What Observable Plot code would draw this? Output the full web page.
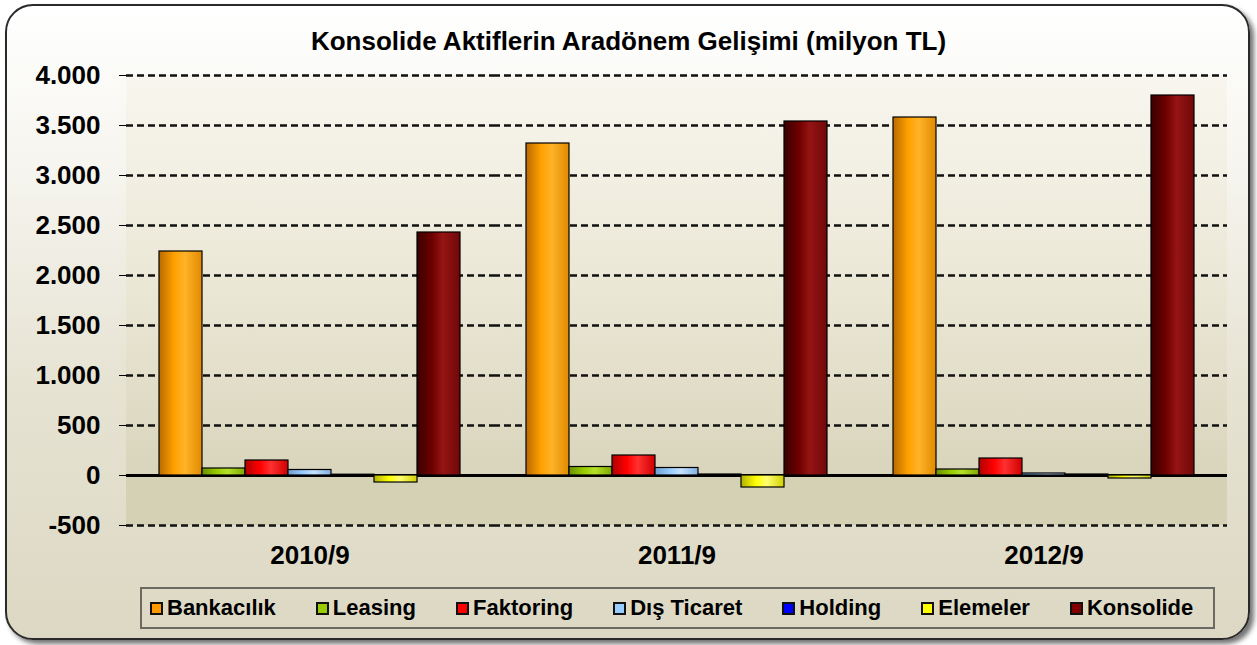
<!DOCTYPE html>
<html>
<head>
<meta charset="utf-8">
<script src="https://cdn.jsdelivr.net/npm/d3@7"></script>
<script src="https://cdn.jsdelivr.net/npm/@observablehq/plot@0.6"></script>
<style>
  html, body { margin: 0; padding: 0; background: #ffffff; }
  body { width: 1257px; height: 645px; position: relative; overflow: hidden;
         font-family: "Liberation Sans", Arial, sans-serif; }
  #frame { position: absolute; left: 5px; top: 4px; width: 1241px; height: 632px;
           border: 2px solid #2a2a2a; border-radius: 28px;
           box-shadow: 4px 4px 5px rgba(0,0,0,0.55);
           background: linear-gradient(to bottom, #ffffff 0%, #f6f5ef 25%, #e6e3d3 60%, #dcd8c3 100%); }
  #chart { position: absolute; left: 0; top: 0; }
  #title { position: absolute; left: 0; top: 26px; width: 1257px; text-align: center;
           font-size: 26px; font-weight: bold; color: #000; }
  #legend { position: absolute; left: 140px; top: 587px; height: 42px; width: 1075px;
            border: 2px solid #6b6a62; display: flex; align-items: center;
            padding-left: 8px; gap: 40px; box-sizing: border-box; }
  .item { display: flex; align-items: center; font-size: 22px; font-weight: bold; color: #000; }
  .sw { width: 9px; height: 9px; border: 2px solid #111; margin-right: 4px; }
</style>
</head>
<body>
<div id="frame"></div>
<div id="chart"></div>
<div id="title">Konsolide Aktiflerin Aradönem Gelişimi (milyon TL)</div>
<div id="legend"></div>
<script>
// ---- data ----
const periods = ["2010/9", "2011/9", "2012/9"];
const series = ["Bankacılık", "Leasing", "Faktoring", "Dış Ticaret", "Holding", "Elemeler", "Konsolide"];
const bankacilik = [2240, 3320, 3580];
const leasing    = [70, 85, 60];
const faktoring  = [150, 200, 170];
const disTicaret = [55, 75, 20];
const holding    = [8, 10, 10];
const elemeler   = [-70, -120, -30];
const konsolide  = [2430, 3540, 3800];
const colors = ["#FF9900", "#99CC00", "#FF0000", "#99CCFF", "#0000FF", "#FFFF00", "#800000"];
const yTicks = [-500, 0, 500, 1000, 1500, 2000, 2500, 3000, 3500, 4000];

const valuesBySeries = [bankacilik, leasing, faktoring, disTicaret, holding, elemeler, konsolide];
const rows = [];
periods.forEach((p, i) => {
  series.forEach((s, j) => {
    rows.push({period: p, series: s, value: valuesBySeries[j][i], grad: `url(#bar${j})`});
  });
});

const fmt = d3.formatLocale({decimal: ",", thousands: ".", grouping: [3], currency: ["", ""], minus: "-"}).format(",");

const chart = Plot.plot({
  width: 1257,
  height: 585,
  marginLeft: 125,
  marginRight: 29,
  marginTop: 75,
  marginBottom: 60,
  style: {background: "transparent", fontFamily: "'Liberation Sans', Arial, sans-serif",
          fontSize: "26px", fontWeight: "bold", color: "#000", overflow: "visible"},
  facet: {data: rows, x: "period"},
  fx: {domain: periods, padding: 0, label: null, tickSize: 0, tickPadding: 20},
  x: {domain: series, axis: null, paddingInner: 0, paddingOuter: 0.75},
  y: {domain: [-500, 4000], ticks: yTicks, tickFormat: fmt, tickSize: 7, tickPadding: 19, label: null},
  color: {type: "identity"},
  marks: [
    Plot.rect([{y1: 0, y2: 4000}], {y1: "y1", y2: "y2", fill: "url(#wall)"}),
    Plot.rect([{y1: -500, y2: 0}], {y1: "y1", y2: "y2", fill: "#d5d1b4"}),
    Plot.ruleY(yTicks.filter(d => d !== 0), {stroke: "#111", strokeWidth: 2.5, strokeDasharray: "7,4"}),
    Plot.ruleY([0], {stroke: "#000", strokeWidth: 3}),
    Plot.barY(rows, {x: "series", y: "value", fill: "grad", stroke: "#000", strokeWidth: 1.2})
  ]
});

const gradStops = [
  ["#b86a00", "#ffa000", "#ffb328", "#e08a00"],
  ["#6a8f00", "#99cc00", "#b5e02a", "#7ea800"],
  ["#b00000", "#ff0000", "#ff3030", "#d00000"],
  ["#6f9fcf", "#99ccff", "#c4e2ff", "#80b0e0"],
  ["#0000a0", "#0000ff", "#3030ff", "#0000c0"],
  ["#b0b000", "#ffff00", "#ffff70", "#d0d000"],
  ["#3a0000", "#6e0000", "#961414", "#700808"]
];
let defs = "<defs>";
gradStops.forEach((s, j) => {
  defs += `<linearGradient id="bar${j}" x1="0" x2="1" y1="0" y2="0">
    <stop offset="0" stop-color="${s[0]}"/><stop offset="0.35" stop-color="${s[1]}"/>
    <stop offset="0.6" stop-color="${s[2]}"/><stop offset="1" stop-color="${s[3]}"/></linearGradient>`;
});
defs += `<linearGradient id="wall" x1="0" x2="0" y1="0" y2="1">
  <stop offset="0" stop-color="#f8f6ee"/><stop offset="0.5" stop-color="#ebe8d7"/>
  <stop offset="1" stop-color="#d9d5bc"/></linearGradient>`;
defs += "</defs>";
chart.insertAdjacentHTML("afterbegin", defs);
document.getElementById("chart").appendChild(chart);

const legend = document.getElementById("legend");
series.forEach((s, j) => {
  const it = document.createElement("div");
  it.className = "item";
  it.innerHTML = `<span class="sw" style="background:${colors[j]}"></span><span>${s}</span>`;
  legend.appendChild(it);
});
</script>
</body>
</html>
